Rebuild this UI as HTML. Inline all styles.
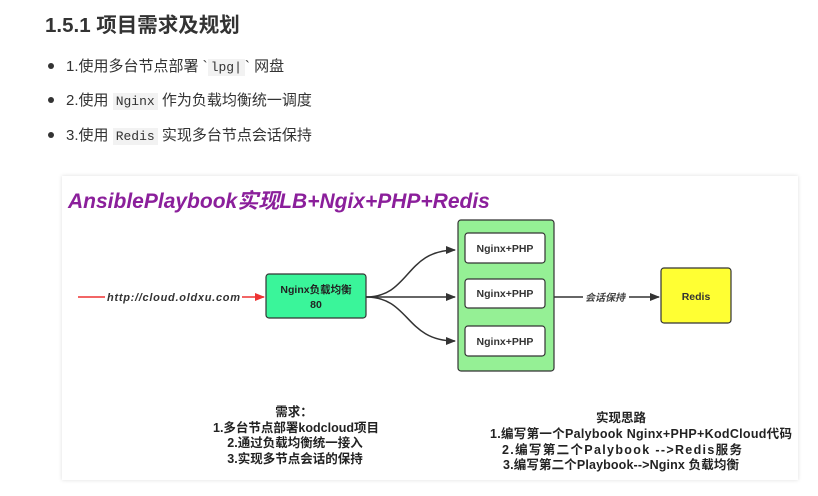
<!DOCTYPE html>
<html><head><meta charset="utf-8"><style>
body{margin:0;width:818px;height:496px;background:#fff;font-family:"Liberation Sans","Noto Sans CJK SC",sans-serif;position:relative;overflow:hidden}
.h{position:absolute;left:45px;top:8px;font-size:20.5px;font-weight:bold;color:#333}
.li{position:absolute;left:48px;font-size:15px;color:#333}
.li:before{content:"";position:absolute;left:0;top:8px;width:6px;height:6px;border-radius:50%;background:#333}
.li span.t{margin-left:18px}
code{font-family:"Liberation Mono",monospace;background:#f2f2f2;padding:1px 3px;font-size:13px;color:#333}
.panel{position:absolute;left:62px;top:176px;width:736px;height:304px;background:#fff;box-shadow:0 0 4px #ddd}
</style></head><body>
<div class="h">1.5.1 项目需求及规划</div>
<div class="li" style="top:55px"><span class="t">1.使用多台节点部署 `<code>lpg|</code>` 网盘</span></div>
<div class="li" style="top:89px"><span class="t">2.使用 <code>Nginx</code> 作为负载均衡统一调度</span></div>
<div class="li" style="top:124px"><span class="t">3.使用 <code>Redis</code> 实现多台节点会话保持</span></div>
<div class="panel"></div>
<svg width="818" height="496" style="position:absolute;left:0;top:0" font-family="Liberation Sans, Noto Sans CJK SC, sans-serif">
<defs>
<marker id="a" markerWidth="10" markerHeight="8" refX="9" refY="4" orient="auto" markerUnits="userSpaceOnUse"><path d="M0,0 L10,4 L0,8 z" fill="#333"/></marker>
<marker id="r" markerWidth="10" markerHeight="8" refX="9" refY="4" orient="auto" markerUnits="userSpaceOnUse"><path d="M0,0 L10,4 L0,8 z" fill="#e33"/></marker>
</defs>
<text x="68" y="208" font-size="21" font-weight="bold" font-style="italic" fill="#8b1f9b">AnsiblePlaybook实现LB+Ngix+PHP+Redis</text>
<line x1="78" y1="297" x2="264" y2="297" stroke="#e33" stroke-width="1.6" marker-end="url(#r)"/>
<rect x="105" y="289" width="137" height="14" fill="#fff"/>
<text x="107" y="301" font-size="11" font-weight="bold" font-style="italic" fill="#333" textLength="133" lengthAdjust="spacing">http://cloud.oldxu.com</text>
<rect x="266" y="274" width="100" height="44" rx="3" fill="#3af59a" stroke="#333" stroke-width="1.2"/>
<text x="316" y="293" font-size="10.5" font-weight="bold" text-anchor="middle" fill="#222">Nginx负载均衡</text>
<text x="316" y="308" font-size="10.5" font-weight="bold" text-anchor="middle" fill="#222">80</text>
<path d="M366,297 C410,297 405,250 455,250" fill="none" stroke="#333" stroke-width="1.5" marker-end="url(#a)"/>
<path d="M366,297 L455,297" fill="none" stroke="#333" stroke-width="1.5" marker-end="url(#a)"/>
<path d="M366,297 C410,297 405,341 455,341" fill="none" stroke="#333" stroke-width="1.5" marker-end="url(#a)"/>
<rect x="458" y="220" width="96" height="151" rx="3" fill="#95f095" stroke="#333" stroke-width="1.2"/>
<rect x="465" y="233" width="80" height="30" rx="3" fill="#fff" stroke="#333" stroke-width="1.2"/>
<rect x="465" y="279" width="80" height="29" rx="3" fill="#fff" stroke="#333" stroke-width="1.2"/>
<rect x="465" y="326" width="80" height="30" rx="3" fill="#fff" stroke="#333" stroke-width="1.2"/>
<text x="505" y="252" font-size="10.5" font-weight="bold" text-anchor="middle" fill="#333">Nginx+PHP</text>
<text x="505" y="297" font-size="10.5" font-weight="bold" text-anchor="middle" fill="#333">Nginx+PHP</text>
<text x="505" y="345" font-size="10.5" font-weight="bold" text-anchor="middle" fill="#333">Nginx+PHP</text>
<line x1="554" y1="297" x2="659" y2="297" stroke="#333" stroke-width="1.5" marker-end="url(#a)"/>
<rect x="583" y="290" width="46" height="14" fill="#fff"/>
<text x="585" y="301" font-size="10" font-weight="bold" font-style="italic" fill="#444">会话保持</text>
<rect x="661" y="268" width="70" height="55" rx="3" fill="#ffff33" stroke="#333" stroke-width="1.2"/>
<text x="696" y="300" font-size="10.5" font-weight="bold" text-anchor="middle" fill="#333">Redis</text>
<g font-size="12.5" font-weight="bold" fill="#222" text-anchor="middle" xml:space="preserve">
<text x="294" y="416">需求：</text>
<text x="296" y="432">1.多台节点部署kodcloud项目</text>
<text x="295" y="447">2.通过负载均衡统一接入</text>
<text x="295" y="463">3.实现多节点会话的保持</text>
<text x="621" y="422">实现思路</text>
<text x="641" y="438" textLength="302" lengthAdjust="spacing">1.编写第一个Palybook  Nginx+PHP+KodCloud代码</text>
<text x="622" y="454" textLength="240" lengthAdjust="spacing">2.编写第二个Palybook        -->Redis服务</text>
<text x="621" y="469" textLength="236" lengthAdjust="spacing">3.编写第二个Playbook-->Nginx 负载均衡</text>
</g>
</svg>
</body></html>
